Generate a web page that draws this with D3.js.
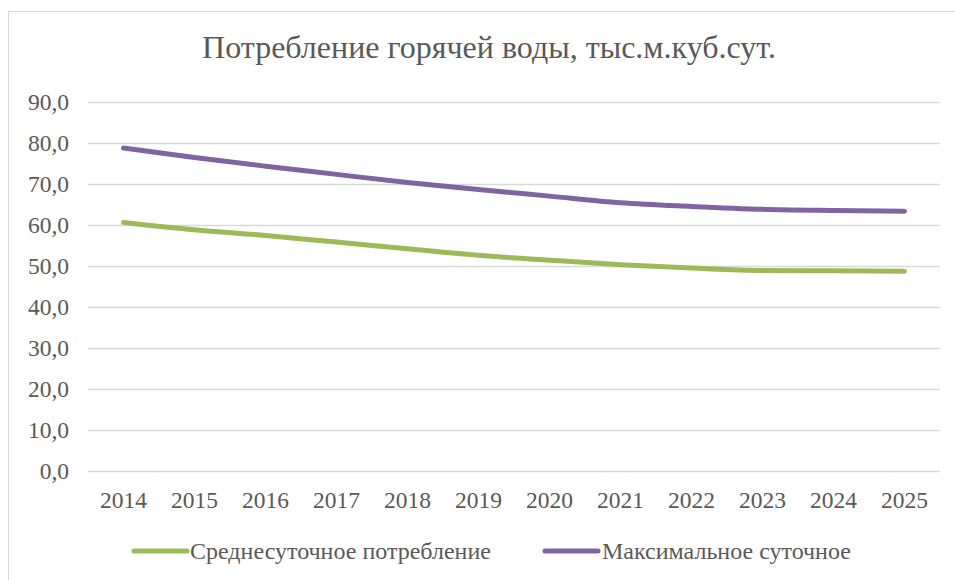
<!DOCTYPE html>
<html>
<head>
<meta charset="utf-8">
<script src="https://cdn.jsdelivr.net/npm/d3@7"></script>
<style>
  html, body { margin: 0; padding: 0; background: #fff; }
  svg { display: block; }
</style>
</head>
<body>
<svg id="chart" width="955" height="580"></svg>
<script>
const title = "Потребление горячей воды, тыс.м.куб.сут.";
const years = ["2014","2015","2016","2017","2018","2019","2020","2021","2022","2023","2024","2025"];
const avgDaily = [60.6, 58.8, 57.4, 55.8, 54.2, 52.6, 51.4, 50.3, 49.5, 48.9, 48.8, 48.7];
const maxDaily = [78.7, 76.4, 74.3, 72.3, 70.3, 68.6, 67.0, 65.4, 64.5, 63.8, 63.5, 63.3];
const seriesNames = ["Среднесуточное потребление", "Максимальное суточное"];
const seriesColors = ["#9BBB59", "#8064A2"];
const yTicks = [0, 10, 20, 30, 40, 50, 60, 70, 80, 90];

const FONT = "'Liberation Serif', 'Times New Roman', Tinos, serif";
const TEXT_COLOR = "#595959";

const svg = d3.select("#chart");

// chart border
svg.append("rect")
  .attr("x", 8.5).attr("y", 11.5)
  .attr("width", 1000).attr("height", 600)
  .attr("fill", "none").attr("stroke", "#d9d9d9").attr("stroke-width", 1);

const plot = {left: 88, right: 940, top: 101.7, bottom: 471.2};

const x = d3.scaleBand().domain(years).range([plot.left, plot.right]);
const y = d3.scaleLinear().domain([0, 90]).range([plot.bottom, plot.top]);

function txt(sel, size) {
  return sel.attr("font-family", FONT).attr("font-size", size).attr("fill", TEXT_COLOR);
}

// title
txt(svg.append("text"), 32)
  .attr("x", 489).attr("y", 58)
  .attr("text-anchor", "middle")
  .text(title);

// gridlines
svg.append("g")
  .selectAll("line").data(yTicks).join("line")
  .attr("x1", plot.left).attr("x2", plot.right)
  .attr("y1", d => Math.round(y(d)) + 0.5).attr("y2", d => Math.round(y(d)) + 0.5)
  .attr("stroke", "#d9d9d9").attr("stroke-width", 1.5);

// y axis labels
const fmt = d => d.toFixed(1).replace(".", ",");
txt(svg.append("g").selectAll("text").data(yTicks).join("text"), 23.5)
  .attr("x", 69).attr("y", d => y(d) + 8)
  .attr("text-anchor", "end")
  .text(fmt);

// x axis labels
txt(svg.append("g").selectAll("text").data(years).join("text"), 23.5)
  .attr("x", d => x(d) + x.bandwidth() / 2).attr("y", 508)
  .attr("text-anchor", "middle")
  .text(d => d);

// lines
const line = d3.line()
  .x((d, i) => x(years[i]) + x.bandwidth() / 2)
  .y(d => y(d))
  .curve(d3.curveMonotoneX);

[avgDaily, maxDaily].forEach((s, i) => {
  svg.append("path")
    .datum(s)
    .attr("d", line)
    .attr("fill", "none")
    .attr("stroke", seriesColors[i])
    .attr("stroke-width", 5)
    .attr("stroke-linecap", "round")
    .attr("stroke-linejoin", "round");
});

// legend
const legendItems = [
  {x1: 134, x2: 187, tx: 190},
  {x1: 545, x2: 598, tx: 602}
];
legendItems.forEach((l, i) => {
  svg.append("line")
    .attr("x1", l.x1).attr("x2", l.x2)
    .attr("y1", 551).attr("y2", 551)
    .attr("stroke", seriesColors[i]).attr("stroke-width", 5)
    .attr("stroke-linecap", "round");
  txt(svg.append("text"), 24)
    .attr("x", l.tx).attr("y", 559)
    .text(seriesNames[i]);
});
</script>
</body>
</html>
